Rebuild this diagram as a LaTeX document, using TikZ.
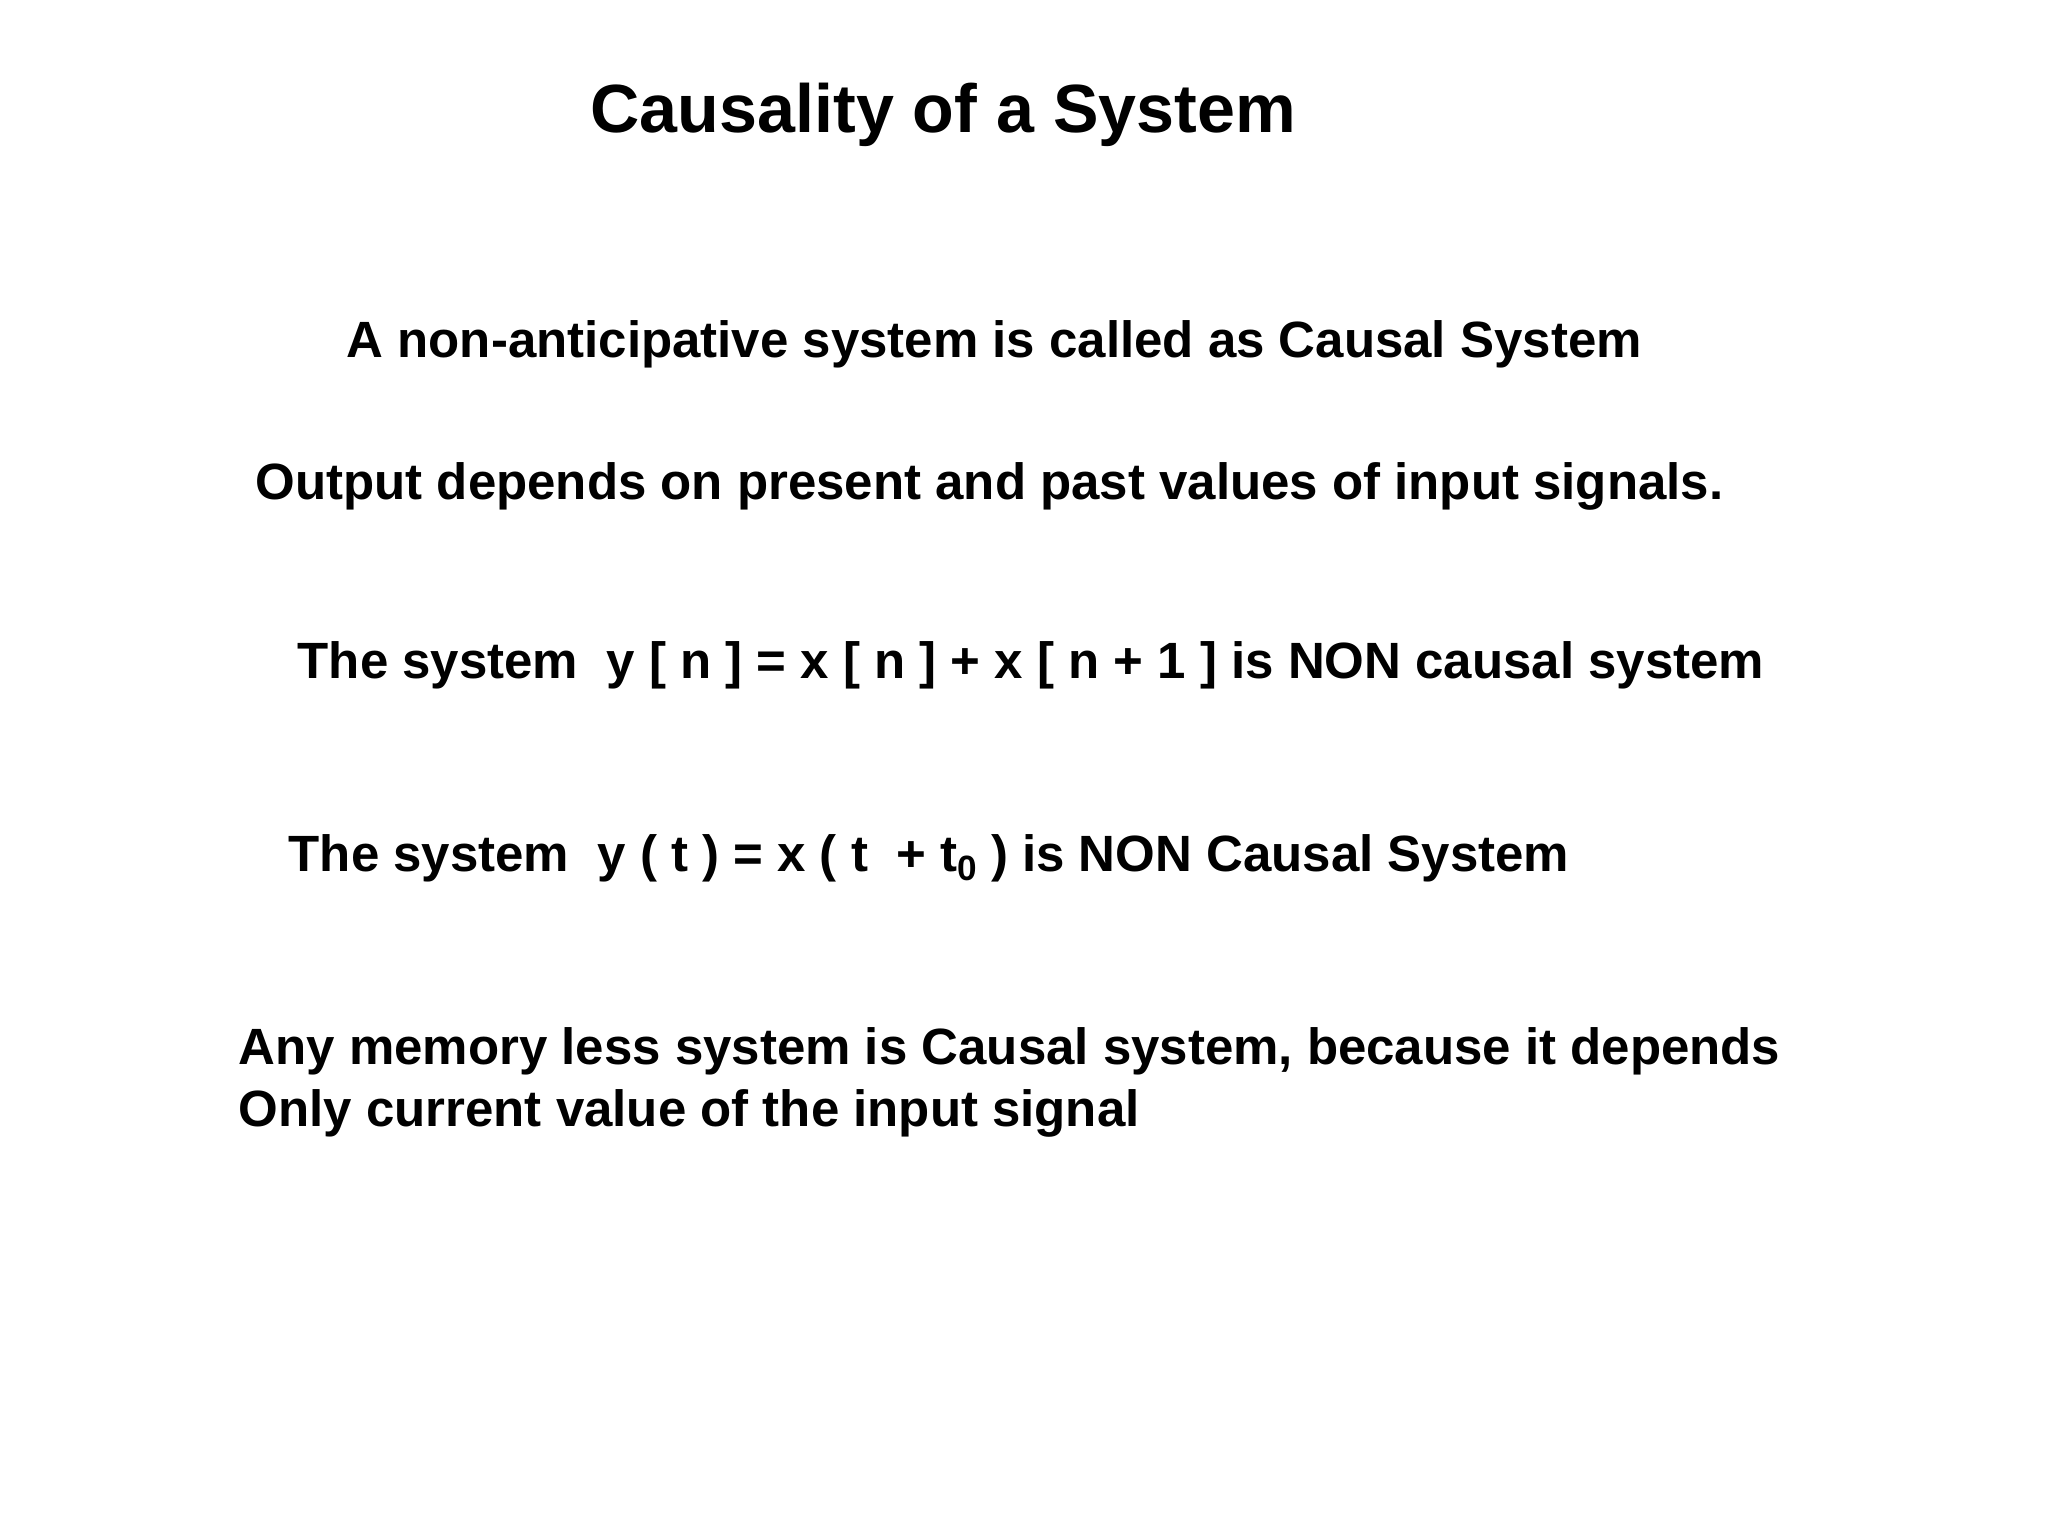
\documentclass[tikz,border=0pt]{standalone}
\usepackage{fontspec}
\setmainfont{Liberation Sans}
\begin{document}
\begin{tikzpicture}[x=0.01cm,y=-0.01cm,
  txt/.style={anchor=base west,inner sep=0pt,font=\fontsize{14.5}{17}\selectfont\bfseries}]
\useasboundingbox (0,0) rectangle (2048,1536);
\node[anchor=base west,inner sep=0pt,font=\fontsize{19.4}{23}\selectfont\bfseries] (title) at (590,132) {Causality of a System};
\node[txt] (l1) at (346,357) {A non-anticipative system is called as Causal System};
\node[txt] (l2) at (255,499) {Output depends on present and past values of input signals.};
\node[txt] (l3) at (297,678) {The system\ \ y [ n ] = x [ n ] + x [ n + 1 ] is NON causal system};
\node[txt] (l4) at (288,871) {The system\ \ y ( t ) = x ( t\ \ + t\raisebox{-0.35ex}{\fontsize{10}{11}\selectfont 0} ) is NON Causal System};
\node[txt] (l5) at (238,1064) {Any memory less system is Causal system, because it depends};
\node[txt] (l6) at (238,1126) {Only current value of the input signal};
\end{tikzpicture}
\end{document}
